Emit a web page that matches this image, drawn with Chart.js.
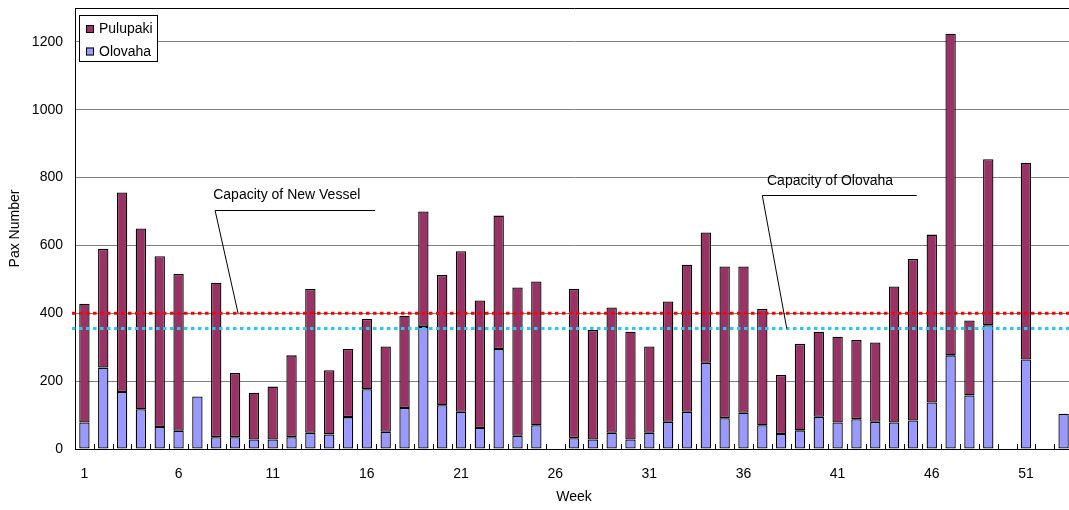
<!DOCTYPE html>
<html>
<head>
<meta charset="utf-8">
<script src="https://cdn.jsdelivr.net/npm/chart.js@4/dist/chart.umd.min.js"></script>
<style>
html,body{margin:0;padding:0;background:#fff;overflow:hidden;}
#wrap{width:1069px;height:510px;overflow:hidden;}
canvas{display:block;}
</style>
</head>
<body>
<div id="wrap"><canvas id="c" width="1073" height="510"></canvas></div>
<script>
const weeks = ['1','2','3','4','5','6','7','8','9','10','11','12','13','14','15','16','17','18','19','20',
  '21','22','23','24','25','26','27','28','29','30','31','32','33','34','35','36','37','38','39','40',
  '41','42','43','44','45','46','47','48','49','50','51','52','53'];
const olovaha = [78,240,168,117,65,54,155,35,35,28,28,35,48,43,94,176,51,121,360,129,
  110,62,295,39,70,null,32,28,48,28,48,80,110,254,91,107,70,44,55,95,
  78,88,80,78,84,137,276,158,365,null,264,null,104];
const pulupaki = [350,350,588,533,503,462,null,455,189,138,156,241,424,189,201,207,251,272,340,384,
  473,376,393,437,424,null,440,323,369,318,254,355,433,384,447,431,343,174,255,251,
  253,233,234,401,476,495,948,221,489,null,580,null,null];
const yTicks = [0,200,400,600,800,1000,1200];
const yMax = 1300;
const capacityNewVessel = 400;
const capacityOlovaha = 355;
const xLabelEvery = 5;

const FONT = "'Liberation Sans', Arial, sans-serif";
Chart.defaults.font.family = FONT;
Chart.defaults.color = '#000';

const decor = {
  id: 'decor',
  afterDatasetsDraw(chart) {
    const ctx = chart.ctx;
    const a = chart.chartArea;
    const xs = chart.scales.x, ys = chart.scales.y;
    ctx.save();
    ctx.strokeStyle = '#000';
    ctx.lineWidth = 1;
    const n = weeks.length;
    for (let i = 0; i <= n; i++) {
      const x = Math.round(xs.getPixelForValue(i - 0.5)) + 0.5;
      ctx.beginPath();
      ctx.moveTo(x, a.bottom);
      ctx.lineTo(x, a.bottom - 5);
      ctx.stroke();
    }
    const drawCap = (val, color) => {
      const y = ys.getPixelForValue(val);
      ctx.save();
      ctx.strokeStyle = color;
      ctx.lineWidth = 3;
      ctx.setLineDash([3.5, 3.5]);
      ctx.beginPath();
      ctx.moveTo(a.left - 3, y);
      ctx.lineTo(a.right, y);
      ctx.stroke();
      ctx.restore();
    };
    drawCap(capacityNewVessel, '#FF0000');
    drawCap(capacityOlovaha, '#22CCF2');
    const callout = (text, tx, tv, ex, ev, endx, ax, av) => {
      ctx.save();
      ctx.strokeStyle = '#000';
      ctx.lineWidth = 1;
      const y1 = Math.round(ys.getPixelForValue(ev)) + 0.5;
      ctx.beginPath();
      ctx.moveTo(xs.getPixelForValue(endx), y1);
      ctx.lineTo(xs.getPixelForValue(ex), y1);
      ctx.lineTo(xs.getPixelForValue(ax), ys.getPixelForValue(av));
      ctx.stroke();
      ctx.fillStyle = '#000';
      ctx.font = '14px ' + FONT;
      ctx.textBaseline = 'middle';
      ctx.textAlign = 'left';
      ctx.fillText(text, xs.getPixelForValue(tx), ys.getPixelForValue(tv));
      ctx.restore();
    };
    callout('Capacity of New Vessel', 6.84, 747, 6.94, 706, 15.44, 8.16, capacityNewVessel);
    callout('Capacity of Olovaha', 36.25, 789, 36.0, 750, 44.2, 37.3, capacityOlovaha);
    const lx = a.left + 4, ly = a.top + 7;
    ctx.fillStyle = '#fff';
    ctx.fillRect(lx, ly, 78, 46);
    ctx.strokeStyle = '#000';
    ctx.strokeRect(lx + 0.5, ly + 0.5, 78, 46);
    const items = [['Pulupaki', '#993366'], ['Olovaha', '#9999FF']];
    ctx.font = '14px ' + FONT;
    ctx.textBaseline = 'middle';
    items.forEach((it, i) => {
      const cy = ly + 14 + i * 22.5;
      ctx.fillStyle = it[1];
      ctx.fillRect(lx + 7, cy - 4, 8, 8);
      ctx.strokeStyle = '#000';
      ctx.strokeRect(lx + 7.5, cy - 3.5, 7, 7);
      ctx.fillStyle = '#000';
      ctx.fillText(it[0], lx + 20, cy + 0.5);
    });
    ctx.restore();
  }
};

new Chart(document.getElementById('c'), {
  type: 'bar',
  data: {
    labels: weeks,
    datasets: [
      { label: 'Olovaha', data: olovaha, backgroundColor: '#9999FF', borderColor: '#000',
        borderWidth: 1.3, borderSkipped: false, barPercentage: 0.55, categoryPercentage: 1 },
      { label: 'Pulupaki', data: pulupaki, backgroundColor: '#993366', borderColor: '#000',
        borderWidth: 1.3, borderSkipped: false, barPercentage: 0.55, categoryPercentage: 1 }
    ]
  },
  options: {
    responsive: false,
    animation: false,
    layout: { autoPadding: false, padding: { top: 8, right: 0, left: 0, bottom: 0 } },
    plugins: { legend: { display: false }, tooltip: { enabled: false } },
    scales: {
      x: {
        stacked: true,
        grid: { display: false },
        border: { display: true, color: '#000', width: 1 },
        ticks: {
          autoSkip: false, maxRotation: 0, minRotation: 0, padding: 9,
          font: { size: 14 },
          callback: function(v, i) { return i % xLabelEvery === 0 ? weeks[i] : ''; }
        },
        title: { display: true, text: 'Week', font: { size: 14 }, padding: { top: 0, bottom: 4 } },
        afterFit(s) { s.height = 61; s.paddingLeft = 0; s.paddingRight = 0; }
      },
      y: {
        stacked: true,
        min: 0, max: yMax,
        afterBuildTicks(s) { s.ticks = yTicks.concat([yMax]).map(v => ({ value: v })); },
        grid: {
          drawTicks: false,
          color: ctx => (ctx.tick && ctx.tick.value === yMax) ? '#000' : '#808080',
          lineWidth: 1
        },
        border: { display: true, color: '#000', width: 1 },
        ticks: {
          padding: 12, font: { size: 14 },
          callback: v => (yTicks.includes(v) ? String(v) : '')
        },
        title: { display: true, text: 'Pax Number', font: { size: 14 }, padding: { top: 7, bottom: 0 } },
        afterFit(s) { s.width = 75; s.paddingTop = 0; s.paddingBottom = 0; }
      }
    }
  },
  plugins: [decor]
});
</script>
</body>
</html>
